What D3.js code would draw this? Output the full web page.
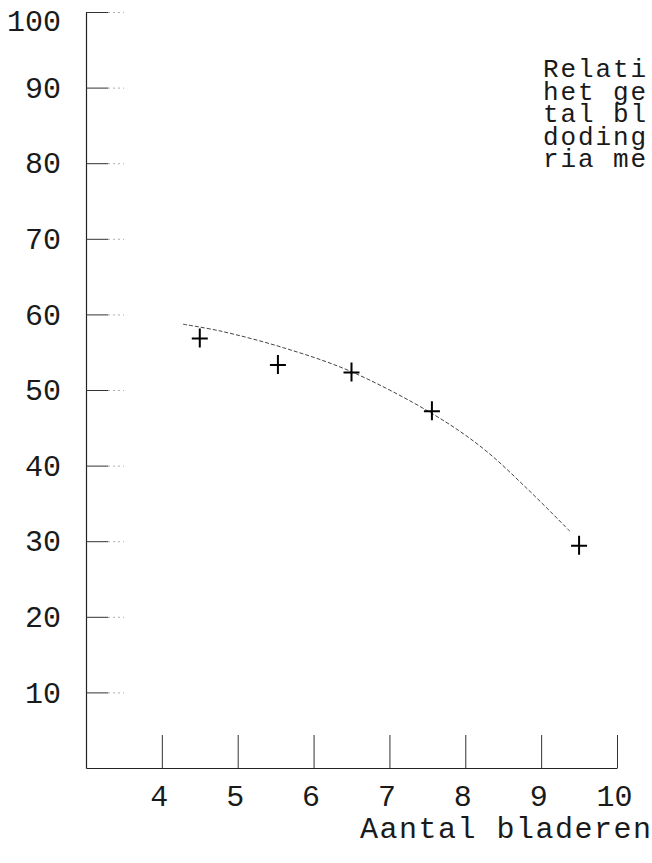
<!doctype html>
<html>
<head>
<meta charset="utf-8">
<title>Relatie aantal bladeren</title>
<script src="https://cdn.jsdelivr.net/npm/d3@7"></script>
<style>
  html, body { margin: 0; padding: 0; background: #fff; }
  svg { display: block; }
  text { font-family: "Courier New", "Nimbus Mono PS", "FreeMono", "Liberation Mono", monospace; fill: #1a1a1a; }
  .axis .domain { stroke: #222; stroke-width: 1.2; }
  .axis .tick line.main { stroke: #333; stroke-width: 1; }
</style>
</head>
<body>
<script>
// data
var leafCounts = [4.5, 5.53, 6.5, 7.56, 9.5];
var killPct    = [56.8, 53.3, 52.3, 47.2, 29.4];

// hand-drawn trend curve (points along the pencil line)
var curveX = [4.28, 4.77, 5.6, 6.48, 7.56, 8.23, 8.81, 9.38];
var curveY = [58.7, 57.8, 55.6, 52.5, 46.9, 42.3, 37.0, 31.3];

var xTicks = [4, 5, 6, 7, 8, 9, 10];
var yTicks = [10, 20, 30, 40, 50, 60, 70, 80, 90, 100];

var noteLines = ["Relati", "het ge", "tal bl", "doding", "ria me"];
var xTitle = "Aantal bladeren";

var W = 652, H = 863;

var svg = d3.select("body").append("svg")
    .attr("width", W)
    .attr("height", H);

var x = d3.scaleLinear().domain([3, 10]).range([86, 617]);
var y = d3.scaleLinear().domain([0, 100]).range([768, 12]);

// y axis, ticks pointing right, labels left
var yAxis = svg.append("g")
    .attr("class", "axis")
    .attr("transform", "translate(" + x(3) + ",0)")
    .call(d3.axisLeft(y).tickValues(yTicks).tickFormat(d3.format("d"))
        .tickSizeInner(-22).tickSizeOuter(0).tickPadding(25));
yAxis.selectAll(".tick line").attr("class", "main");
yAxis.selectAll(".tick text")
    .style("font-size", "30px")
    .attr("dy", function(d) { return d === 100 ? "0.6em" : "0.32em"; });
// faint dotted continuation of each y tick
yAxis.selectAll(".tick").append("line")
    .attr("x1", 22).attr("x2", 38)
    .attr("stroke", "#999")
    .attr("stroke-width", 0.8)
    .attr("stroke-dasharray", "2 3");

// x axis, ticks pointing up
var xAxis = svg.append("g")
    .attr("class", "axis")
    .attr("transform", "translate(0," + y(0) + ")")
    .call(d3.axisBottom(x).tickValues(xTicks).tickFormat(d3.format("d"))
        .tickSizeInner(-33).tickSizeOuter(0).tickPadding(17));
xAxis.selectAll(".tick line").attr("class", "main");
xAxis.selectAll(".tick text")
    .style("font-size", "30px")
    .attr("dx", "-3");

// x axis title
svg.append("text")
    .attr("x", 360)
    .attr("y", 838)
    .style("font-size", "30px")
    .style("letter-spacing", "1.5px")
    .text(xTitle);

// note at top right (cut off by the page edge)
svg.append("g").selectAll("text")
    .data(noteLines)
    .join("text")
    .attr("x", 543)
    .attr("y", function(d, i) { return 77 + i * 22.5; })
    .style("font-size", "26px")
    .style("letter-spacing", "1.9px")
    .text(function(d) { return d; });

// fragment of a letter cut off at the top edge
svg.append("text")
    .attr("x", 120)
    .attr("y", -6)
    .style("font-size", "30px")
    .text("g");

// trend curve
var curvePts = curveX.map(function(v, i) { return [v, curveY[i]]; });
svg.append("path")
    .datum(curvePts)
    .attr("fill", "none")
    .attr("stroke", "#444")
    .attr("stroke-width", 1)
    .attr("stroke-dasharray", "4 2")
    .attr("d", d3.line()
        .x(function(d) { return x(d[0]); })
        .y(function(d) { return y(d[1]); })
        .curve(d3.curveCatmullRom.alpha(0.5)));

// data points as typed crosses
var pts = leafCounts.map(function(v, i) { return [v, killPct[i]]; });
svg.append("g").selectAll("path")
    .data(pts)
    .join("path")
    .attr("fill", "none")
    .attr("stroke", "#000")
    .attr("stroke-width", 2)
    .attr("d", function(d) {
        var cx = x(d[0]), cy = y(d[1]);
        return "M" + (cx - 8) + "," + cy + "H" + (cx + 8) +
               "M" + cx + "," + (cy - 10) + "V" + (cy + 9);
    });
</script>
</body>
</html>
